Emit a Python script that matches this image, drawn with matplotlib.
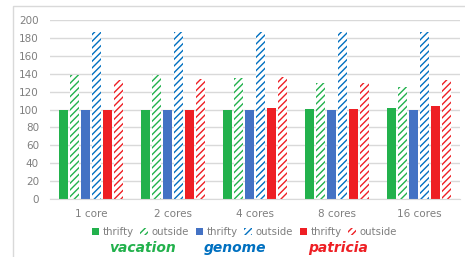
import numpy as np
import matplotlib
matplotlib.use("Agg")
from matplotlib import pyplot as plt
from matplotlib.patches import Rectangle, Patch

categories = ["1 core", "2 cores", "4 cores", "8 cores", "16 cores"]
vacation_thrifty = [100, 100, 100, 101, 102]
vacation_outside = [139, 138, 135, 130, 125]
genome_thrifty = [100, 100, 100, 100, 100]
genome_outside = [187, 187, 187, 187, 187]
patricia_thrifty = [100, 100, 102, 101, 104]
patricia_outside = [133, 134, 136, 130, 133]

names = ["vacation", "genome", "patricia"]
solid_colors = ["#22B14C", "#4472C4", "#EE1F24"]
hatch_colors = ["#22B14C", "#0070C0", "#EE1F24"]
name_colors = ["#22B14C", "#0070C0", "#EE1F24"]

plt.rcParams["hatch.linewidth"] = 1.0
plt.rcParams["font.family"] = "DejaVu Sans"

fig = plt.figure(figsize=(4.65, 2.57), dpi=100)
ax = fig.add_axes([50 / 465, 1 - 199 / 257, 410 / 465, 179 / 257])

series = [vacation_thrifty, vacation_outside, genome_thrifty,
          genome_outside, patricia_thrifty, patricia_outside]
x = np.arange(len(categories))
step = 0.134
width = 0.11
handles = []
for k, vals in enumerate(series):
    c = k // 2
    pos = x + (k - 2.5) * step
    if k % 2 == 0:
        ax.bar(pos, vals, width, color=solid_colors[c], zorder=3)
        handles.append(Patch(facecolor=solid_colors[c]))
    else:
        ax.bar(pos, vals, width, facecolor="white", edgecolor=hatch_colors[c],
               hatch="/////", linewidth=0, zorder=3)
        handles.append(Patch(facecolor="white", edgecolor=hatch_colors[c],
                             hatch="/////", linewidth=0))

ax.set_xlim(-0.5, 4.5)
ax.set_ylim(0, 200)
ax.set_yticks(range(0, 201, 20))
ax.set_xticks(x)
ax.set_xticklabels(categories)
ax.grid(axis="y", color="#D9D9D9", linewidth=1, zorder=0)
for s in ["top", "right", "left"]:
    ax.spines[s].set_visible(False)
ax.spines["bottom"].set_color("#D9D9D9")
ax.spines["bottom"].set_zorder(4)
ax.tick_params(length=0, labelsize=7.5, colors="#7F7F7F", pad=7)
ax.tick_params(axis="y", pad=8)

labels = ["thrifty", "outside"] * 3
fig.legend(handles, labels, ncol=6, loc="center", bbox_to_anchor=(244 / 465, 1 - 232 / 257),
           frameon=False, fontsize=7.3, labelcolor="#7F7F7F", handlelength=0.75,
           handleheight=0.75, handletextpad=0.3, columnspacing=0.7)

name_x = [142, 235, 338]
for n, nx, col in zip(names, name_x, name_colors):
    fig.text(nx / 465, 1 - 248 / 257, n, color=col, fontsize=10, fontweight="bold",
             fontstyle="italic", ha="center", va="center")

fig.patches.append(Rectangle((13 / 465, -0.05), 1.0, 1 - 6 / 257 + 0.05,
                             transform=fig.transFigure, fill=False,
                             edgecolor="#D9D9D9", linewidth=1))

fig.savefig("out.png", dpi=100)
